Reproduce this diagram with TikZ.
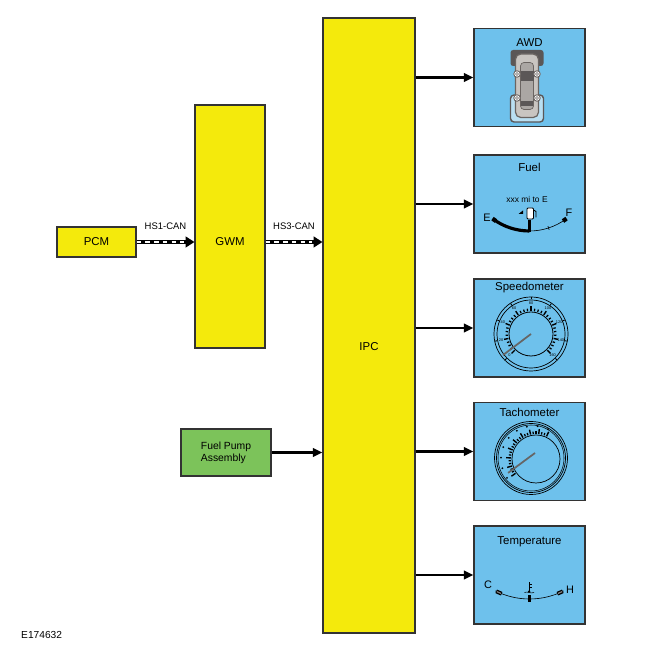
\documentclass[tikz,border=0pt]{standalone}
\usepackage{fontspec}
\setmainfont{Liberation Sans}
\usetikzlibrary{arrows.meta}
\definecolor{ecuyellow}{HTML}{F4EA0C}
\definecolor{gaugeblue}{HTML}{6EC1EC}
\definecolor{pumpgreen}{HTML}{7CC35A}
\definecolor{awddark}{HTML}{5B5757}
\definecolor{awdlight}{HTML}{B9DFF2}
\definecolor{awdbody}{HTML}{C9C5C1}
\definecolor{awdline}{HTML}{6B6562}
\begin{document}
\begin{tikzpicture}[
    box/.style={draw=black!80, line width=0.6pt, inner sep=0pt, font=\fontsize{6.5}{7.5}\selectfont},
    ecu/.style={box, fill=ecuyellow},
    gauge/.style={box, fill=gaugeblue, minimum width=2.22cm, minimum height=1.96cm},
    sig/.style={line width=1.55pt, -{Triangle[length=5.5pt,width=4.8pt]}},
    can/.style={line width=2.4pt, -{Triangle[length=5pt,width=6pt]}},
    candash/.style={white, line width=1.1pt, dash pattern=on 2.6pt off 2.4pt},
    title/.style={font=\fontsize{6.5}{7.5}\selectfont},
    cantext/.style={font=\fontsize{5.4}{6}\selectfont, inner sep=0pt},
    dialnum/.style={font=\fontsize{2.2}{2.4}\selectfont, inner sep=0pt},
    tick/.style={line width=0.35pt}
  ]
  \useasboundingbox (0,0) rectangle (13,13);

  \node[ecu, minimum width=1.58cm, minimum height=0.6cm] (pcm) at (1.93,8.16) {PCM};
  \node[ecu, minimum width=1.4cm, minimum height=4.86cm] (gwm) at (4.6,8.47) {};
  \node[title] (gwmlabel) at (gwm |- pcm) {GWM};
  \node[ecu, minimum width=1.84cm, minimum height=12.3cm] (ipc) at (7.38,6.49) {};
  \node[title] (ipclabel) at ([yshift=-0.43cm]ipc.center) {IPC};
  \node[box, fill=pumpgreen, minimum width=1.8cm, minimum height=0.94cm,
        align=left, font=\fontsize{5.9}{6.8}\selectfont] (pump) at (4.52,3.95) {Fuel Pump\\Assembly};
  \node[anchor=west, font=\fontsize{5.8}{6.5}\selectfont] (code) at (0.3,0.3) {E174632};

  \node[gauge] (awd) at (10.59,11.45) {};
  \node[gauge] (fuel) at (10.59,8.92) {};
  \node[gauge] (speedo) at (10.59,6.44) {};
  \node[gauge] (tacho) at (10.59,3.97) {};
  \node[gauge] (temp) at (10.59,1.5) {};
  \node[title] at ([yshift=-0.30cm]awd.north) {AWD};
  \node[title] at ([yshift=-0.26cm]fuel.north) {Fuel};
  \node[title] at ([yshift=-0.18cm]speedo.north) {Speedometer};
  \node[title] at ([yshift=-0.20cm]tacho.north) {Tachometer};
  \node[title] at ([yshift=-0.32cm]temp.north) {Temperature};

  % buses
  \draw[can] (pcm.east) -- (pcm.east -| gwm.west)
    node[midway, above=6pt, cantext] {HS1-CAN};
  \draw[candash] (pcm.east) -- ([xshift=-6pt]pcm.east -| gwm.west);
  \draw[can] (gwm.east |- pcm) -- (pcm -| ipc.west)
    node[midway, above=6pt, cantext] {HS3-CAN};
  \draw[candash] (gwm.east |- pcm) -- ([xshift=-6pt]pcm -| ipc.west);
  \draw[sig] (pump.east) -- (pump.east -| ipc.west);
  \foreach \g in {awd,fuel,speedo,tacho,temp}
    \draw[sig] (ipc.east |- \g.west) -- (\g.west);

  % awd car
  \begin{scope}[shift={([shift={(-0.05,-0.17)}]awd.center)}]
    \fill[awddark, rounded corners=1.5pt] (-0.33,0.4) rectangle (0.33,0.72);
    \draw[fill=awdlight, draw=awddark, line width=0.8pt, rounded corners=2pt] (-0.33,-0.72) rectangle (0.33,-0.18);
    \draw[fill=awdbody, draw=awdline, line width=0.7pt, rounded corners=3pt] (-0.23,-0.63) rectangle (0.23,0.64);
    \draw[fill=awdbody!85!black, draw=awdline, line width=0.4pt, rounded corners=2pt] (-0.13,-0.47) rectangle (0.13,0.47);
    \fill[awddark] (-0.13,0.1) rectangle (0.13,0.3);
    \fill[awddark] (-0.12,-0.4) rectangle (0.12,-0.3);
    \foreach \x in {-0.2,0.2}
      \foreach \y in {-0.24,0.24} {
        \draw[fill=white, draw=awdline, line width=0.5pt] (\x,\y) circle (0.065);
        \draw[awdline, line width=0.3pt] (\x,\y) circle (0.03);
      }
  \end{scope}

  % fuel gauge
  \begin{scope}[shift={(fuel.center)}]
    \node[font=\fontsize{4.8}{5}\selectfont] (range) at (-0.05,0.1) {xxx mi to E};
    \draw[tick] (0,0.69) ++(234:1.23) arc[start angle=234, end angle=306, radius=1.23];
    \draw[line width=1.8pt] (0,0.69) ++(234:1.23) arc[start angle=234, end angle=270, radius=1.23];
    \draw[line width=2.4pt] (0,0.69) ++(233:1.23) arc[start angle=233, end angle=237, radius=1.23];
    \draw[line width=2.4pt] (0,0.69) ++(303:1.23) arc[start angle=303, end angle=307, radius=1.23];
    \draw[line width=1.2pt] (0,0.69) ++(270:1.26) -- ++(90:0.24);
    \draw[tick] (0,0.69) ++(288:1.19) -- ++(288:0.08);
    \draw[fill=white, line width=0.5pt, rounded corners=0.6pt] (-0.05,-0.3) rectangle (0.08,-0.08);
    \draw[line width=0.5pt] (0.08,-0.12) -- (0.13,-0.15) -- (0.13,-0.27);
    \fill (-0.13,-0.2) -- (-0.22,-0.2) -- (-0.13,-0.13) -- cycle;
    \node[font=\fontsize{6.2}{7}\selectfont] (elabel) at (-0.85,-0.28) {E};
    \node[font=\fontsize{6.2}{7}\selectfont] (flabel) at (0.79,-0.18) {F};
  \end{scope}

  % speedometer
  \begin{scope}[shift={([shift={(0.03,-0.12)}]speedo.center)}]
    \draw[line width=0.4pt] (0,0) circle (0.74);
    \draw[line width=0.4pt] (0,0) circle (0.68);
    \draw[line width=0.45pt] (0,0) circle (0.44);
    \foreach \i in {0,...,32} {
      \pgfmathsetmacro\a{225-\i*8.4375}
      \pgfmathtruncatemacro\m{mod(\i,4)}
      \ifnum\m=0
        \draw[line width=0.8pt] (\a:0.46) -- (\a:0.55);
        \draw[line width=0.5pt] (\a:0.69) -- (\a:0.73);
      \else
        \draw[line width=0.7pt] (\a:0.46) -- (\a:0.51);
      \fi
    }
    \foreach \v [count=\k from 0] in {0,20,40,60,80,100,120,140,160}
      \node[dialnum] at (225-\k*33.75:0.61) {\v};
    \draw[line width=1pt, black!60] (0,0) -- (217:0.7);
  \end{scope}

  % tachometer
  \begin{scope}[shift={([shift={(0.03,-0.13)}]tacho.center)}]
    \draw[line width=0.4pt] (0,0) circle (0.73);
    \draw[line width=0.4pt] (0,0) circle (0.69);
    \draw[line width=0.3pt] (0,0) circle (0.66);
    \draw[line width=0.4pt] (0.1,-0.02) circle (0.48);
    \foreach \i in {0,...,24} {
      \pgfmathsetmacro\a{215-\i*6.25}
      \pgfmathtruncatemacro\m{mod(\i,3)}
      \ifnum\m=0
        \draw[line width=0.8pt] ([shift={(\a:0.5)}]0.1,-0.02) -- ([shift={(\a:0.6)}]0.1,-0.02);
        \fill ([shift={(\a:0.66)}]0.06,-0.02) circle (0.02);
      \else
        \draw[line width=0.7pt] ([shift={(\a:0.5)}]0.1,-0.02) -- ([shift={(\a:0.55)}]0.1,-0.02);
      \fi
    }
    \draw[line width=1pt, black!60] (0.08,0.1) -- ++(216.5:0.67);
  \end{scope}

  % temperature gauge
  \begin{scope}[shift={(temp.center)}]
    \draw[tick] (0,1.04) ++(243.4:1.52) arc[start angle=243.4, end angle=296.6, radius=1.52];
    \draw[line width=2.2pt] (0,1.04) ++(244:1.52) arc[start angle=244, end angle=248.5, radius=1.52];
    \draw[line width=0.7pt, gray] (0,1.04) ++(244.5:1.52) arc[start angle=244.5, end angle=248, radius=1.52];
    \draw[line width=2.2pt] (0,1.04) ++(291.5:1.52) arc[start angle=291.5, end angle=296, radius=1.52];
    \draw[line width=0.7pt, gray] (0,1.04) ++(292:1.52) arc[start angle=292, end angle=295.5, radius=1.52];
    \draw[line width=1.3pt] (0,1.04) ++(270:1.45) -- ++(270:0.14);
    \draw[line width=0.4pt] (-0.01,-0.33) -- (-0.01,-0.15);
    \draw[line width=0.3pt] (-0.01,-0.19) -- (0.04,-0.19) (-0.01,-0.24) -- (0.04,-0.24);
    \fill (-0.01,-0.33) circle (0.025);
    \draw[line width=0.3pt] (-0.1,-0.35) .. controls (-0.05,-0.32) and (0.03,-0.38) .. (0.09,-0.35);
    \node[font=\fontsize{6.2}{7}\selectfont] (clabel) at (-0.83,-0.2) {C};
    \node[font=\fontsize{6.2}{7}\selectfont] (hlabel) at (0.81,-0.3) {H};
  \end{scope}
\end{tikzpicture}
\end{document}
